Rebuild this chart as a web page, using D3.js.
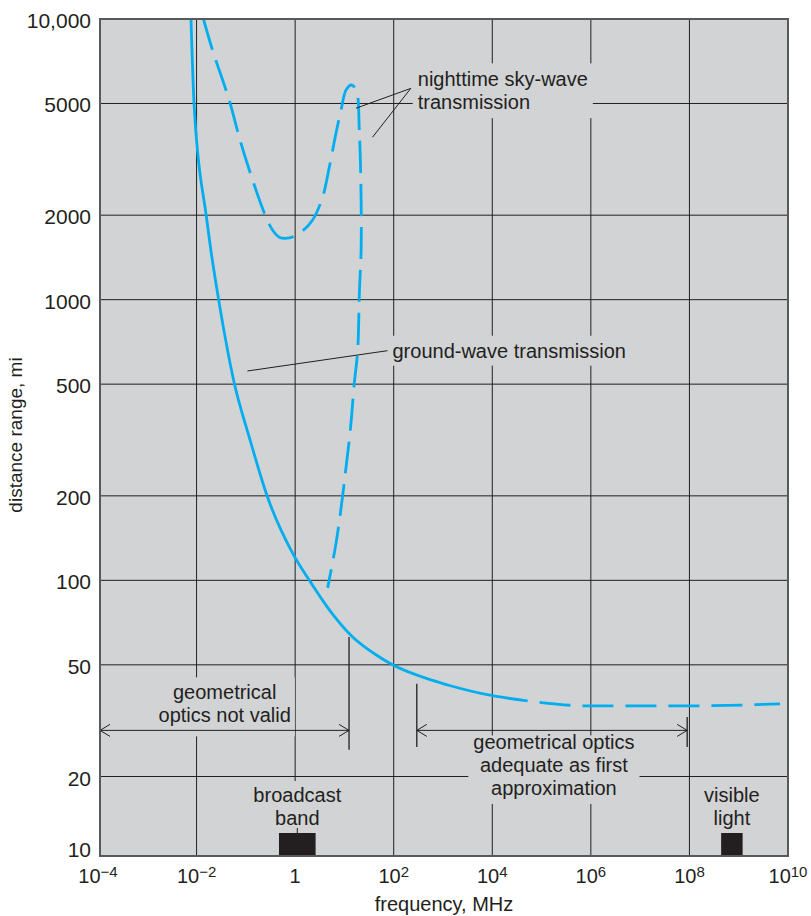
<!DOCTYPE html>
<html>

<head>
    <meta charset="utf-8" />
    <title>Distance range vs frequency</title>
    <script src="https://cdn.jsdelivr.net/npm/d3@7"></script>
    <style>
        body { margin: 0; background: #fff; }
        svg text { fill: #231f20; font-family: "Liberation Sans", Arial, sans-serif; }
    </style>
</head>

<body>
    <script type="text/javascript">
        // ground-wave transmission, solid part (MHz, mi)
        var groundFreq = [0.0077, 0.0089, 0.0157, 0.0195, 0.0288, 0.0581, 0.117, 0.275, 0.887, 1.94, 4.94, 14.7, 51.3, 88.7, 612, 1355, 10140, 52200];
        var groundDist = [10000, 4980, 1990, 1500, 972, 505, 324, 198, 125, 100, 78.5, 62.8, 53.3, 50.3, 44, 42.2, 38.8, 37.2];
        // ground-wave, dashed tail
        var groundTailFreq = [52200, 9.5e5, 9.3e7, 6.9e9];
        var groundTailDist = [37.2, 35.7, 35.7, 36.3];
        // nighttime sky-wave transmission (dashed, folds back on itself)
        var skyFreq = [0.0138, 0.021, 0.0459, 0.0794, 0.137, 0.236, 0.348, 0.476, 0.76, 1.32, 2.26, 3.61, 4.94, 6.77, 8.55, 10.8, 13.8, 17.3, 20.1, 21.8, 21.8, 20.1, 18.6, 15.9, 13.0, 10.8, 8.96, 6.77, 4.57];
        var skyDist = [10000, 7760, 5140, 3610, 2670, 2040, 1771, 1670, 1659, 1742, 1923, 2322, 2970, 3930, 4750, 5590, 5820, 5590, 3930, 2264, 1503, 1057, 662, 505, 335, 254, 193, 136, 94];
        // frequency bands marked on the axis
        var broadcastBand = [0.47, 2.6];
        var visibleLight = [4.4e8, 1.2e9];

        var yTicks = [10, 20, 50, 100, 200, 500, 1000, 2000, 5000, 10000];
        var yTickLabels = ["10", "20", "50", "100", "200", "500", "1000", "2000", "5000", "10,000"];
        var xTickExp = [-4, -2, 0, 2, 4, 6, 8, 10];

        var width = 811, height = 916;
        var plot = { left: 100, right: 788, top: 19, bottom: 856 };
        var bg = "#d1d3d4", ink = "#231f20", blue = "#00aeef";
        var fs = 20, lh = 22.8;

        var x = d3.scaleLog().domain([1e-4, 1e10]).range([98, 788]);
        var y = d3.scaleLog().domain([10, 10000]).range([861, 19]);

        var svg = d3.select("body").append("svg")
            .attr("width", width)
            .attr("height", height);

        svg.append("defs").append("clipPath").attr("id", "clip")
            .append("rect")
            .attr("x", plot.left).attr("y", plot.top)
            .attr("width", plot.right - plot.left)
            .attr("height", plot.bottom - plot.top);

        svg.append("rect")
            .attr("x", plot.left).attr("y", plot.top)
            .attr("width", plot.right - plot.left)
            .attr("height", plot.bottom - plot.top)
            .attr("fill", bg);

        // grid
        var grid = svg.append("g").attr("stroke", ink).attr("stroke-width", 1);
        grid.selectAll("line.v")
            .data(xTickExp.slice(1, -1))
            .enter().append("line")
            .attr("class", "v")
            .attr("x1", d => x(Math.pow(10, d))).attr("x2", d => x(Math.pow(10, d)))
            .attr("y1", plot.top).attr("y2", plot.bottom);
        grid.selectAll("line.h")
            .data(yTicks.slice(1, -1))
            .enter().append("line")
            .attr("class", "h")
            .attr("x1", plot.left).attr("x2", plot.right)
            .attr("y1", d => y(d)).attr("y2", d => y(d));

        // text blocks with a background patch that hides the grid
        function textBlock(lines, px, baseline, opts) {
            opts = opts || {};
            var g = svg.append("g");
            var patch = g.append("rect").attr("fill", bg);
            var t = g.append("text")
                .attr("x", px).attr("y", baseline)
                .attr("text-anchor", opts.anchor || "start")
                .style("font-size", fs + "px");
            lines.forEach((s, i) => {
                t.append("tspan").attr("x", px).attr("dy", i ? lh : 0).text(s);
            });
            var b = t.node().getBBox();
            var p = opts.pad == null ? 2 : opts.pad;
            var top = b.y - p, bottom = b.y + b.height + p;
            if (opts.top != null) top = opts.top;
            if (opts.bottom != null) bottom = opts.bottom;
            patch.attr("x", b.x - p).attr("y", top)
                .attr("width", b.width + 2 * p)
                .attr("height", bottom - top);
            return g;
        }

        var arrowY = y(29.2);
        var bandTop = plot.bottom - 23;

        // nighttime sky-wave label
        var hub = [x(222), y(5660)];
        textBlock(["nighttime sky-wave", "transmission"], hub[0] + 7, hub[1] - 2, { pad: 5 });
        // ground-wave label
        var gEnd = [x(74.8), y(658)];
        textBlock(["ground-wave transmission"], gEnd[0] + 5, gEnd[1] + 7, { pad: 4 });
        // geometrical optics not valid
        textBlock(["geometrical", "optics not valid"], x(0.0372), arrowY - 31, { anchor: "middle", pad: 4, bottom: arrowY + 6 });
        // geometrical optics adequate
        textBlock(["geometrical optics", "adequate as first", "approximation"], x(1.78e5), arrowY + 19, { anchor: "middle", pad: 5, top: arrowY + 5 });
        // broadcast band / visible light
        var bcx = (x(broadcastBand[0]) + x(broadcastBand[1])) / 2;
        var vlx = (x(visibleLight[0]) + x(visibleLight[1])) / 2;
        textBlock(["broadcast", "band"], bcx, plot.bottom - 54, { anchor: "middle", pad: 3, bottom: bandTop });
        svg.append("text")
            .attr("text-anchor", "middle")
            .style("font-size", fs + "px")
            .selectAll("tspan")
            .data(["visible", "light"])
            .enter().append("tspan")
            .attr("x", vlx)
            .attr("y", (d, i) => plot.bottom - 54 + i * lh)
            .text(d => d);

        // curves
        var pts = (fx, dy) => fx.map((f, i) => [f, dy[i]]);
        var groundLine = d3.line()
            .x(d => x(d[0]))
            .y(d => y(d[1]))
            .curve(d3.curveMonotoneX);
        var skyLine = d3.line()
            .x(d => x(d[0]))
            .y(d => y(d[1]))
            .curve(d3.curveCatmullRom.alpha(0.5));

        var curves = svg.append("g")
            .attr("clip-path", "url(#clip)")
            .attr("fill", "none")
            .attr("stroke", blue)
            .attr("stroke-width", 2.8);
        curves.append("path").attr("d", groundLine(pts(groundFreq, groundDist)));
        curves.append("path").attr("d", groundLine(pts(groundTailFreq, groundTailDist)))
            .attr("stroke-dasharray", "31,12")
            .attr("stroke-dashoffset", 31);
        curves.append("path").attr("d", skyLine(pts(skyFreq, skyDist)))
            .attr("stroke-dasharray", "32,11");

        // band bars
        svg.selectAll("rect.band")
            .data([broadcastBand, visibleLight])
            .enter().append("rect")
            .attr("class", "band")
            .attr("x", d => x(d[0]))
            .attr("width", d => x(d[1]) - x(d[0]))
            .attr("y", bandTop)
            .attr("height", plot.bottom - bandTop)
            .attr("fill", ink);

        // leader lines and dimension arrows
        var ann = svg.append("g").attr("stroke", ink).attr("stroke-width", 1).attr("fill", "none");
        ann.append("polyline").attr("points", [[x(17.2), y(4810)], hub, [x(37.1), y(3790)]].map(p => p.join(",")).join(" "));
        ann.append("line")
            .attr("x1", x(0.1076)).attr("y1", y(557))
            .attr("x2", gEnd[0]).attr("y2", gEnd[1]);
        ann.append("line")
            .attr("x1", bcx).attr("x2", bcx)
            .attr("y1", bandTop - 5).attr("y2", bandTop);

        function arrow(x0, x1, yy) {
            ann.append("line").attr("x1", x0).attr("x2", x1).attr("y1", yy).attr("y2", yy);
            ann.append("polyline").attr("points", [[x0 + 10, yy - 6], [x0, yy], [x0 + 10, yy + 6]].map(p => p.join(",")).join(" "));
            ann.append("polyline").attr("points", [[x1 - 10, yy - 6], [x1, yy], [x1 - 10, yy + 6]].map(p => p.join(",")).join(" "));
        }
        function bar(xx, d0, d1) {
            ann.append("line").attr("x1", xx).attr("x2", xx).attr("y1", y(d0)).attr("y2", y(d1)).attr("stroke-width", 1.3);
        }
        arrow(plot.left, x(12.4), arrowY);
        bar(x(12.4), 62.8, 24.9);
        arrow(x(294), x(9e7), arrowY);
        bar(x(294), 42.8, 25.5);
        bar(x(9e7), 32.6, 25.5);

        // frame
        svg.append("rect")
            .attr("x", plot.left).attr("y", plot.top)
            .attr("width", plot.right - plot.left)
            .attr("height", plot.bottom - plot.top)
            .attr("fill", "none")
            .attr("stroke", "#58595b")
            .attr("stroke-width", 2);

        // y tick labels
        svg.append("g").selectAll("text")
            .data(yTicks)
            .enter().append("text")
            .attr("x", 91)
            .attr("y", d => Math.min(y(d) + 9, plot.bottom + 1))
            .attr("text-anchor", "end")
            .style("font-size", "21px")
            .text((d, i) => yTickLabels[i]);

        // x tick labels with superscript exponents
        svg.append("g").selectAll("text")
            .data(xTickExp)
            .enter().append("text")
            .attr("x", d => x(Math.pow(10, d)))
            .attr("y", 883)
            .attr("text-anchor", "middle")
            .style("font-size", "20px")
            .each(function (e) {
                var t = d3.select(this);
                if (e === 0) { t.text("1"); return; }
                t.append("tspan").text("10");
                t.append("tspan")
                    .attr("dy", -6)
                    .style("font-size", "15px")
                    .text(e < 0 ? "\u2212" + (-e) : e);
            });

        // axis titles
        svg.append("text")
            .attr("x", 444).attr("y", 911)
            .attr("text-anchor", "middle")
            .style("font-size", "20px")
            .text("frequency, MHz");
        svg.append("text")
            .attr("transform", "translate(22,435) rotate(-90)")
            .attr("text-anchor", "middle")
            .style("font-size", "19px")
            .text("distance range, mi");
    </script>
</body>

</html>
